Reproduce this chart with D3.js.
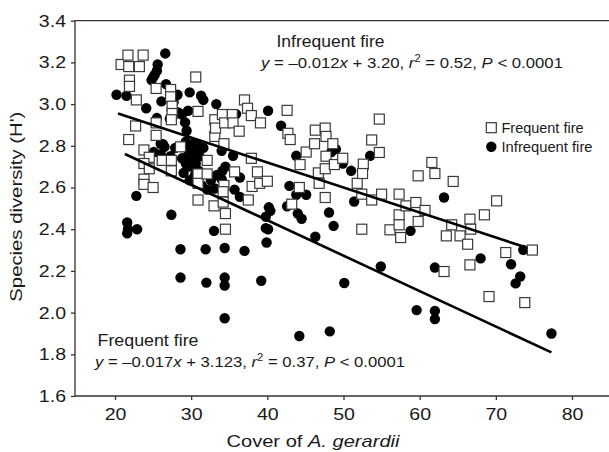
<!DOCTYPE html>
<html>
<head>
<meta charset="utf-8">
<script src="https://cdn.jsdelivr.net/npm/d3@7"></script>
<style>
  body { margin: 0; background: #fff; }
  svg text { font-family: "Liberation Sans", Arial, sans-serif; fill: #1a1a1a; }
</style>
</head>
<body>
<div id="chart"></div>
<script>
// Frequent fire plots (open squares): [cover, H']
var frequentFire = [
  [20.8,3.19],[21.7,3.235],[21.8,3.18],[23.7,3.235],[23.2,3.18],[21.9,3.115],[21.9,3.085],[22.8,3.02],[22.7,2.895],[21.8,2.83],
  [25.4,3.075],[27.3,3.07],[27.3,3.035],[27.5,2.99],[27.5,2.955],[27.4,2.925],[30.6,3.13],[30.9,2.965],[25.4,2.91],[25.4,2.85],
  [23.8,2.78],[24.5,2.745],[23.8,2.715],[24.5,2.69],[23.8,2.64],[23.8,2.615],[25.0,2.60],[26.2,2.73],[27.4,2.73],[27.4,2.68],
  [28.6,2.795],[30.9,2.665],[30.9,2.62],[30.9,2.54],[32.1,2.73],[32.1,2.665],[33.1,2.925],[33.1,2.845],[33.2,2.885],[34.1,2.95],
  [34.4,2.91],[34.3,2.81],[33.0,2.512],[34.3,2.61],[34.2,2.58],[34.2,2.53],[34.5,2.475],[34.5,2.40],[35.4,2.95],[35.5,2.91],
  [36.3,2.87],[35.7,2.675],[37.0,3.02],[37.4,2.98],[37.9,2.945],[39.1,2.91],[37.9,2.74],[37.5,2.54],[38.0,2.605],[38.7,2.675],
  [39.0,2.62],[40.0,2.63],[42.6,2.97],[42.7,2.86],[43.0,2.83],[44.3,2.71],[44.2,2.60],[43.2,2.52],[45.1,2.77],[46.3,2.875],
  [46.2,2.81],[46.7,2.67],[46.8,2.62],[47.6,2.552],[47.6,2.885],[47.7,2.845],[47.7,2.75],[47.6,2.69],[48.6,2.81],[48.8,2.71],
  [49.9,2.74],[51.8,2.62],[52.6,2.712],[52.5,2.667],[52.4,2.568],[52.4,2.40],[53.7,2.54],[53.7,2.828],[54.7,2.928],[54.7,2.768],
  [55.0,2.568],[57.3,2.568],[56.1,2.397],[57.3,2.469],[57.3,2.421],[57.5,2.36],[58.2,2.512],[59.5,2.528],[59.8,2.437],[60.7,2.49],
  [59.8,2.656],[61.6,2.72],[62.0,2.667],[64.4,2.629],[64.2,2.421],[63.5,2.368],[65.3,2.368],[66.3,2.328],[66.6,2.448],[66.7,2.40],
  [66.6,2.229],[63.2,2.197],[68.5,2.469],[70.1,2.536],[71.3,2.288],[69.1,2.077],[73.8,2.048],[74.8,2.30]
];

// Infrequent fire plots (filled circles): [cover, H']
var infrequentFire = [
  [20.2,3.045],[21.5,3.04],[24.1,2.98],[22.8,2.56],[21.6,2.432],[21.6,2.38],[22.9,2.40],[21.7,2.40],
  [26.6,3.243],[25.6,3.19],[25.5,3.16],[25.2,3.14],[25.0,3.128],[24.8,3.115],[26.7,3.096],[28.2,3.045],[29.8,3.056],[31.3,3.04],[31.6,3.02],[33.3,3.0],
  [27.7,3.01],[26.1,3.013],[28.8,2.95],[29.6,2.968],[29.2,2.912],[29.4,2.872],[25.5,2.933],[26.3,2.808],[26.0,2.81],[26.5,2.795],
  [26.0,2.76],[25.1,2.77],[27.3,2.75],[29.3,2.82],[29.8,2.79],[30.3,2.81],[29.6,2.755],[30.1,2.73],[29.3,2.715],[30.3,2.70],
  [31.1,2.75],[30.9,2.80],[29.2,2.795],[30.3,2.77],[29.7,2.70],[30.6,2.715],[31.6,2.79],[29.8,2.635],[31.4,2.61],[32.1,2.59],
  [33.1,2.595],[32.6,2.635],[33.4,2.66],[34.1,2.68],[34.5,2.70],[34.0,2.776],[35.5,2.752],[34.0,2.64],[35.9,2.952],[35.7,2.59],
  [36.4,2.555],[36.4,2.648],[40.1,2.968],[41.8,2.896],[43.8,2.752],[42.9,2.608],[42.6,2.51],[43.8,2.565],[45.1,2.565],[44.0,2.475],
  [44.5,2.45],[40.4,2.488],[40.2,2.505],[39.8,2.46],[40.1,2.40],[39.9,2.336],[39.8,2.405],[46.3,2.364],[48.1,2.48],[48.7,2.416],
  [48.4,2.77],[49.0,2.784],[49.9,2.715],[51.0,2.68],[51.4,2.533],[53.5,2.752],[63.2,2.552],[58.8,2.392],[62.0,2.216],[68.0,2.26],
  [72.0,2.232],[73.2,2.173],[72.6,2.14],[73.6,2.301],[54.9,2.221],[50.1,2.142],[59.6,2.012],[62.0,2.008],[62.0,1.969],[77.3,1.90],
  [48.2,1.91],[44.2,1.888],[34.4,1.973],[34.4,2.168],[34.4,2.13],[32.0,2.144],[28.6,2.168],[28.6,2.304],[31.9,2.304],[34.4,2.31],
  [37.0,2.296],[39.2,2.153],[27.4,2.469],[33.0,2.392],[27.2,2.93],[28.3,2.96],[30.5,2.66],[31.0,2.68],[28.8,2.74],[30.8,2.76],
  [29.0,2.67],[27.9,2.79]
];

// fitted lines: slope, intercept, x extent
var infrequentFit = { slope: -0.012, intercept: 3.20, from: 20.4, to: 73.5 };
var frequentFit = { slope: -0.017, intercept: 3.123, from: 21.3, to: 77.3 };

var xTicks = [20, 30, 40, 50, 60, 70, 80];
var yTicks = [1.6, 1.8, 2.0, 2.2, 2.4, 2.6, 2.8, 3.0, 3.2, 3.4];

var W = 609, H = 452;
var plotLeft = 75, plotTop = 20.7, plotBottom = 396;

var x = d3.scaleLinear().domain([20, 80]).range([115, 572]);
var y = d3.scaleLinear().domain([1.6, 3.4]).range([plotBottom, plotTop]);

var svg = d3.select("#chart").append("svg")
  .attr("width", W)
  .attr("height", H);

// widen text the way the original glyphs are
function stretch(sel, k) {
  sel.each(function() {
    var w = this.getComputedTextLength();
    d3.select(this).attr("textLength", w * k).attr("lengthAdjust", "spacingAndGlyphs");
  });
}

// frame (right side runs off the picture)
svg.append("path")
  .attr("d", "M" + (W + 10) + "," + plotTop + "H" + plotLeft + "V" + plotBottom + "H" + (W + 10))
  .attr("fill", "none")
  .attr("stroke", "#333")
  .attr("stroke-width", 1.3);

var yAxis = svg.append("g")
  .attr("transform", "translate(" + plotLeft + ",0)")
  .call(d3.axisLeft(y).tickValues(yTicks).tickSize(4).tickPadding(5).tickFormat(d3.format(".1f")));
yAxis.select(".domain").remove();
yAxis.selectAll("line").attr("stroke", "#333").attr("stroke-width", 1.3);
yAxis.selectAll("text").style("font-size", "17px").attr("fill", "#1a1a1a");
stretch(yAxis.selectAll("text"), 1.15);

var xAxis = svg.append("g")
  .attr("transform", "translate(0," + plotBottom + ")")
  .call(d3.axisBottom(x).tickValues(xTicks).tickSize(4).tickPadding(8));
xAxis.select(".domain").remove();
xAxis.selectAll("line").attr("stroke", "#333").attr("stroke-width", 1.3);
xAxis.selectAll("text").style("font-size", "17px").attr("fill", "#1a1a1a");
stretch(xAxis.selectAll("text"), 1.15);

// points
svg.append("g").selectAll("circle")
  .data(infrequentFire)
  .enter().append("circle")
  .attr("cx", function(d) { return x(d[0]); })
  .attr("cy", function(d) { return y(d[1]); })
  .attr("r", 5.2)
  .attr("fill", "#000");

var sq = 10;
svg.append("g").selectAll("rect")
  .data(frequentFire)
  .enter().append("rect")
  .attr("x", function(d) { return x(d[0]) - sq / 2; })
  .attr("y", function(d) { return y(d[1]) - sq / 2; })
  .attr("width", sq)
  .attr("height", sq)
  .attr("fill", "#fff")
  .attr("stroke", "#3a3a3a")
  .attr("stroke-width", 1.2);

// regression lines
[infrequentFit, frequentFit].forEach(function(f) {
  svg.append("line")
    .attr("x1", x(f.from))
    .attr("y1", y(f.intercept + f.slope * f.from))
    .attr("x2", x(f.to))
    .attr("y2", y(f.intercept + f.slope * f.to))
    .attr("stroke", "#000")
    .attr("stroke-width", 2.6);
});

// annotations
function equation(xp, yp, slope, icpt, r2, width) {
  var t = svg.append("text")
    .attr("x", xp).attr("y", yp)
    .style("font-size", "15px");
  t.append("tspan").style("font-style", "italic").text("y");
  t.append("tspan").text(" = \u2013" + slope + "");
  t.append("tspan").style("font-style", "italic").text("x");
  t.append("tspan").text(" + " + icpt + ", ");
  t.append("tspan").style("font-style", "italic").text("r");
  t.append("tspan").attr("dy", -6).style("font-size", "10px").text("2");
  t.append("tspan").attr("dy", 6).text(" = " + r2 + ", ");
  t.append("tspan").style("font-style", "italic").text("P");
  t.append("tspan").text(" < 0.0001");
  t.attr("textLength", width).attr("lengthAdjust", "spacingAndGlyphs");
}

svg.append("text").attr("x", 276.5).attr("y", 46.7)
  .style("font-size", "16.5px").text("Infrequent fire")
  .attr("textLength", 108).attr("lengthAdjust", "spacingAndGlyphs");
equation(261, 68.3, "0.012", "3.20", "0.52", 302);

svg.append("text").attr("x", 97.5).attr("y", 345.5)
  .style("font-size", "17px").text("Frequent fire")
  .attr("textLength", 101).attr("lengthAdjust", "spacingAndGlyphs");
equation(95, 366.5, "0.017", "3.123", "0.37", 310);

// legend
var legend = svg.append("g");
legend.append("rect")
  .attr("x", 491.3 - sq / 2).attr("y", 127.7 - sq / 2)
  .attr("width", sq).attr("height", sq)
  .attr("fill", "#fff").attr("stroke", "#3a3a3a").attr("stroke-width", 1.2);
legend.append("text").attr("x", 501.5).attr("y", 132.7)
  .style("font-size", "14px").text("Frequent fire")
  .attr("textLength", 82).attr("lengthAdjust", "spacingAndGlyphs");
legend.append("circle")
  .attr("cx", 491.3).attr("cy", 146.7).attr("r", 5.2).attr("fill", "#000");
legend.append("text").attr("x", 501.5).attr("y", 151.7)
  .style("font-size", "14px").text("Infrequent fire")
  .attr("textLength", 91).attr("lengthAdjust", "spacingAndGlyphs");

// axis titles
svg.append("text")
  .attr("transform", "translate(21.5,206.7) rotate(-90)")
  .attr("text-anchor", "middle")
  .style("font-size", "17px")
  .text("Species diversity (H')")
  .attr("textLength", 190).attr("lengthAdjust", "spacingAndGlyphs");

var xt = svg.append("text")
  .attr("x", 226.5).attr("y", 447)
  .style("font-size", "17px");
xt.append("tspan").text("Cover of ");
xt.append("tspan").style("font-style", "italic").text("A. gerardii");
xt.attr("textLength", 173).attr("lengthAdjust", "spacingAndGlyphs");
</script>
</body>
</html>
